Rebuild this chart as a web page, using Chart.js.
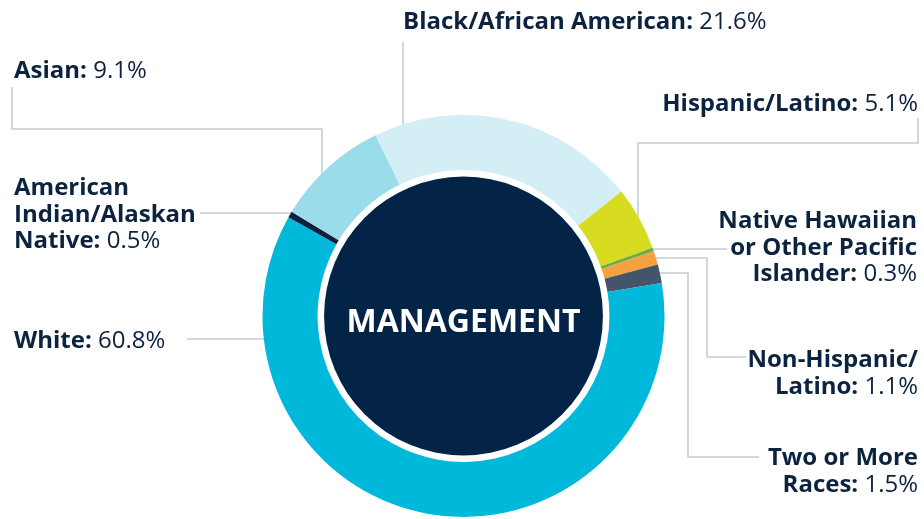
<!DOCTYPE html>
<html>
<head>
<meta charset="utf-8">
<script src="https://cdn.jsdelivr.net/npm/chart.js@4.4.1/dist/chart.umd.min.js"></script>
<style>
  html, body { margin: 0; padding: 0; background: #ffffff; }
  #wrap { width: 924px; height: 519px; }
</style>
</head>
<body>
<div id="wrap"><canvas id="chart" width="924" height="519"></canvas></div>
<script>
// data, in drawing order (clockwise, starting from the Black slice)
const categories = [
  'Black/African American',
  'Hispanic/Latino',
  'Native Hawaiian or Other Pacific Islander',
  'Non-Hispanic/Latino',
  'Two or More Races',
  'White',
  'American Indian/Alaskan Native',
  'Asian'
];
const shares = [21.6, 5.1, 0.3, 1.1, 1.5, 60.8, 0.5, 9.1];
const sliceColors = ['#d3eff5', '#d8dc20', '#6aae45', '#f7a041', '#44546a', '#00b8d9', '#0c2340', '#9adcea'];
const centerTitle = 'MANAGEMENT';

// how each label is broken into lines (last line gets the value)
const labelLines = [
  ['Black/African American:'],
  ['Hispanic/Latino:'],
  ['Native Hawaiian', 'or Other Pacific', 'Islander:'],
  ['Non-Hispanic/', 'Latino:'],
  ['Two or More', 'Races:'],
  ['White:'],
  ['American', 'Indian/Alaskan', 'Native:'],
  ['Asian:']
];

const NAVY = '#0c2340';
const LEADER = '#c6cdd7';
const FONT = '"Open Sans", "DejaVu Sans", sans-serif';
const SIZE = 24;
const LINE_H = 26.5;

// label anchors: x, first baseline, align ; leader polyline
const layout = [
  { x: 403, y: 29, align: 'left', leader: [[403, 42], [403, 140]] },
  { x: 918, y: 111, align: 'right', leader: [[918, 118], [918, 143], [638, 143], [638, 228]] },
  { x: 917, y: 228, align: 'right', leader: [[727, 249], [640, 249]] },
  { x: 918, y: 367, align: 'right', leader: [[746, 357], [707, 357], [707, 258], [640, 258]] },
  { x: 918, y: 465, align: 'right', leader: [[759, 457], [688, 457], [688, 273], [640, 273]] },
  { x: 14, y: 348, align: 'left', leader: [[187, 339], [285, 339]] },
  { x: 14, y: 195, align: 'left', leader: [[200, 213], [300, 213]] },
  { x: 14, y: 78, align: 'left', leader: [[12, 87], [12, 129], [322, 129], [322, 190]] }
];

const leaders = {
  id: 'leaders',
  beforeDatasetsDraw(chart) {
    const ctx = chart.ctx;
    ctx.save();
    ctx.strokeStyle = LEADER;
    ctx.lineWidth = 1.6;
    layout.forEach(l => {
      ctx.beginPath();
      l.leader.forEach((p, i) => i ? ctx.lineTo(p[0], p[1]) : ctx.moveTo(p[0], p[1]));
      ctx.stroke();
    });
    ctx.restore();
  }
};

const labels = {
  id: 'labels',
  afterDatasetsDraw(chart) {
    const ctx = chart.ctx;
    const arc = chart.getDatasetMeta(0).data[0];
    const cx = arc.x, cy = arc.y;
    ctx.save();

    // navy centre disc with the title
    ctx.fillStyle = '#032447';
    ctx.beginPath();
    ctx.arc(cx, cy, arc.innerRadius - 6.5, 0, Math.PI * 2);
    ctx.fill();
    ctx.fillStyle = '#ffffff';
    ctx.font = 'bold 32px ' + FONT;
    ctx.textAlign = 'center';
    ctx.textBaseline = 'alphabetic';
    ctx.fillText(centerTitle, cx, cy + 16);

    // side labels
    ctx.fillStyle = NAVY;
    ctx.textAlign = 'left';
    const bold = 'bold ' + SIZE + 'px ' + FONT;
    const reg = SIZE + 'px ' + FONT;
    labelLines.forEach((lines, i) => {
      const l = layout[i];
      lines.forEach((txt, j) => {
        const y = l.y + j * LINE_H;
        const last = j === lines.length - 1;
        const val = last ? ' ' + shares[i].toFixed(1) + '%' : '';
        ctx.font = bold;
        const wb = ctx.measureText(txt).width;
        ctx.font = reg;
        const wv = ctx.measureText(val).width;
        const x0 = l.align === 'right' ? l.x - wb - wv : l.x;
        ctx.font = bold;
        ctx.fillText(txt, x0, y);
        if (last) {
          ctx.font = reg;
          ctx.fillText(val, x0 + wb, y);
        }
      });
    });
    ctx.restore();
  }
};

new Chart(document.getElementById('chart'), {
  type: 'doughnut',
  data: {
    labels: categories,
    datasets: [{
      data: shares,
      backgroundColor: sliceColors,
      borderWidth: 0
    }]
  },
  options: {
    responsive: false,
    animation: false,
    rotation: -26,
    cutout: '72.6%',
    layout: { padding: { top: 115, bottom: 2, left: 3, right: 0 } },
    plugins: {
      legend: { display: false },
      tooltip: { enabled: false }
    }
  },
  plugins: [leaders, labels]
});
</script>
</body>
</html>
